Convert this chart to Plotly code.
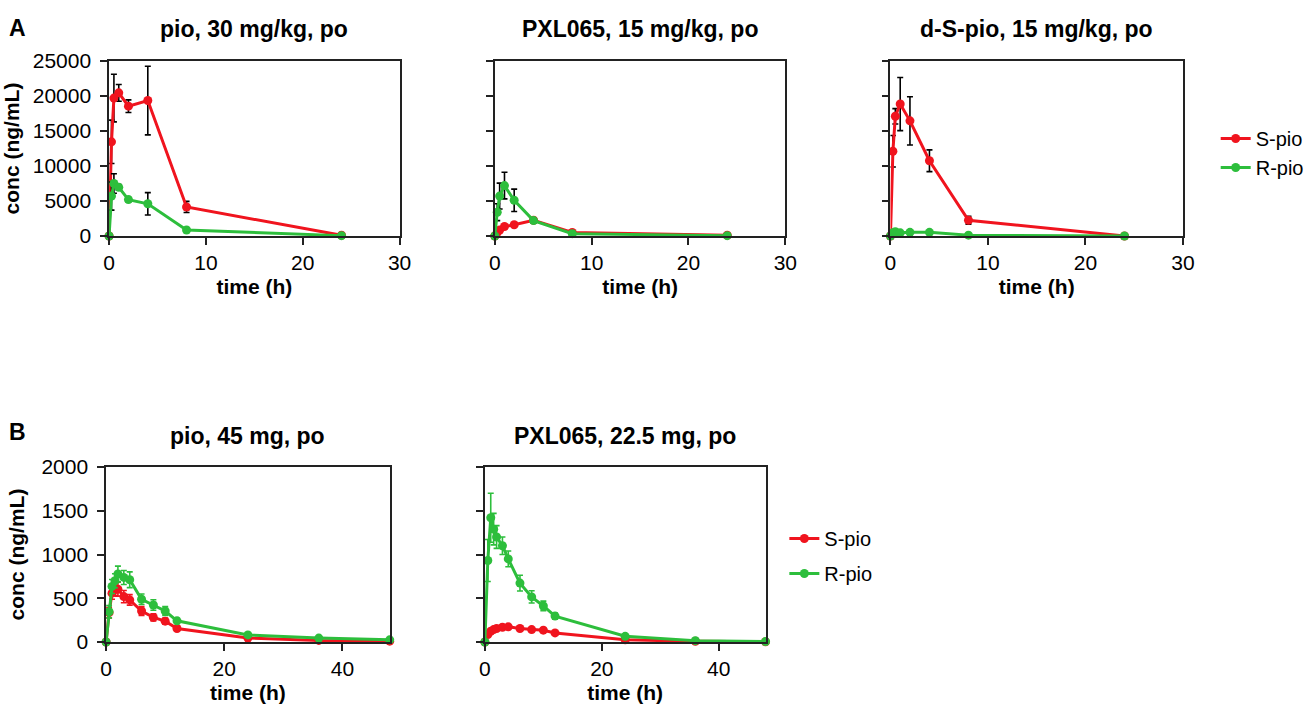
import plotly.graph_objects as go

# ---- Panel A: rat PK, 0-24 h ----
t_rat = [0, 0.25, 0.5, 1, 2, 4, 8, 24]

a1_s = [0, 13450, 19700, 20450, 18550, 19350, 4150, 100]
a1_s_err = [0, 3100, 3400, 1200, 900, 4900, 800, 0]
a1_r = [0, 5700, 7500, 6950, 5200, 4600, 850, 50]
a1_r_err = [0, 2000, 1400, 400, 300, 1600, 100, 0]

a2_s = [0, 500, 850, 1350, 1600, 2250, 500, 100]
a2_s_err = [0, 100, 200, 200, 200, 300, 100, 0]
a2_r = [0, 3400, 5700, 7200, 5100, 2200, 330, 50]
a2_r_err = [0, 1200, 1850, 1900, 1600, 300, 100, 0]

a3_s = [0, 12100, 17100, 18850, 16450, 10750, 2250, 0]
a3_s_err = [0, 2250, 1100, 3800, 3450, 1550, 550, 0]
a3_r = [0, 480, 600, 450, 520, 520, 120, 0]
a3_r_err = [0, 100, 100, 80, 80, 80, 40, 0]

# ---- Panel B: human PK, 0-48 h ----
t_hum = [0, 0.5, 1, 1.5, 2, 3, 4, 6, 8, 10, 12, 24, 36, 48]

b1_s = [0, 335, 558, 600, 604, 519, 481, 354, 281, 238, 154, 46, 18, 10]
b1_s_err = [0, 60, 70, 70, 80, 70, 60, 50, 40, 35, 25, 10, 5, 3]
b1_r = [0, 346, 635, 700, 777, 738, 711, 488, 423, 354, 242, 81, 45, 25]
b1_r_err = [0, 70, 80, 80, 90, 80, 90, 60, 60, 50, 30, 20, 15, 10]

b2_s = [0, 85, 123, 142, 154, 169, 173, 154, 142, 135, 104, 25, 8, 3]
b2_s_err = [0, 15, 15, 15, 15, 15, 15, 12, 12, 10, 10, 5, 3, 2]
b2_r = [0, 931, 1420, 1290, 1200, 1100, 950, 673, 515, 412, 296, 65, 15, 5]
b2_r_err = [0, 240, 280, 180, 130, 100, 90, 90, 70, 55, 35, 15, 5, 2]

titles = ["pio, 30 mg/kg, po", "PXL065, 15 mg/kg, po", "d-S-pio, 15 mg/kg, po",
          "pio, 45 mg, po", "PXL065, 22.5 mg, po"]
series_names = ["S-pio", "R-pio"]

RED = "#F0141E"
GREEN = "#2DBE3C"
FONT = "Liberation Sans, Arial, sans-serif"

W, H = 1309, 704


def px_x(x):
    return x / W


def px_y(y):
    return 1 - y / H


# plot-area boxes in pixels: (left, right, top, bottom)
boxes = [
    (110, 403, 61, 236),
    (499, 792, 61, 236),
    (898, 1193, 61, 236),
    (107, 393, 467, 642),
    (489, 772, 467, 642),
]

fig = go.Figure()

panels = [
    (t_rat, a1_s, a1_s_err, a1_r, a1_r_err, "black", "legend", True),
    (t_rat, a2_s, a2_s_err, a2_r, a2_r_err, "black", "legend", False),
    (t_rat, a3_s, a3_s_err, a3_r, a3_r_err, "black", "legend", False),
    (t_hum, b1_s, b1_s_err, b1_r, b1_r_err, None, "legend2", True),
    (t_hum, b2_s, b2_s_err, b2_r, b2_r_err, None, "legend2", False),
]

for i, (t, s, s_err, r, r_err, ecol, leg, _) in enumerate(panels):
    xa = "x" if i == 0 else f"x{i + 1}"
    ya = "y" if i == 0 else f"y{i + 1}"
    # legend entries come from the last panel of each row
    show = i in (2, 4)
    for name, vals, errs, col in ((series_names[0], s, s_err, RED),
                                  (series_names[1], r, r_err, GREEN)):
        fig.add_trace(go.Scatter(
            x=t, y=vals, name=name, mode="lines+markers",
            xaxis=xa, yaxis=ya, legend=leg, showlegend=show,
            legendgroup=f"{leg}-{name}",
            line=dict(color=col, width=3),
            marker=dict(color=col, size=9),
            error_y=dict(type="data", array=errs, visible=True,
                         color=ecol if ecol else col, thickness=1.6, width=3),
            cliponaxis=False,
        ))

TICK_SIZE = 21
TITLE_SIZE = 21

axis_common = dict(
    automargin=False,
    showgrid=False, zeroline=False, showline=True, linecolor="#222",
    linewidth=1.5, mirror=True, ticks="outside", ticklen=7, tickwidth=1.5,
    tickcolor="#222", tickfont=dict(family=FONT, size=TICK_SIZE, color="black"),
)

layout = dict(
    width=W, height=H, autosize=False, margin=dict(l=0, r=0, t=0, b=0, pad=0),
    paper_bgcolor="white", plot_bgcolor="white",
    font=dict(family=FONT, color="black"),
)

for i, (l, rgt, top, bot) in enumerate(boxes):
    xkey = "xaxis" if i == 0 else f"xaxis{i + 1}"
    ykey = "yaxis" if i == 0 else f"yaxis{i + 1}"
    ya = "y" if i == 0 else f"y{i + 1}"
    xa = "x" if i == 0 else f"x{i + 1}"
    is_a = i < 3
    xax = dict(axis_common)
    xax.update(domain=[px_x(l), px_x(rgt)], anchor=ya,
               range=[0, 30] if is_a else [0, 48],
               tickvals=[0, 10, 20, 30] if is_a else [0, 20, 40],
               ticklabelstandoff=0,
               title=dict(text="<b>time (h)</b>",
                          font=dict(family=FONT, size=TITLE_SIZE), standoff=6))
    yax = dict(axis_common)
    yax.update(domain=[px_y(bot), px_y(top)], anchor=xa,
               range=[0, 25000] if is_a else [0, 2000],
               tickvals=list(range(0, 25001, 5000)) if is_a else list(range(0, 2001, 500)),
               tickformat="d",
               showticklabels=panels[i][7], ticklabelstandoff=5)
    if panels[i][7]:
        yax["title"] = dict(text="<b>conc (ng/mL)</b>",
                            font=dict(family=FONT, size=TITLE_SIZE), standoff=11)
    layout[xkey] = xax
    layout[ykey] = yax

fig.update_layout(**layout)

fig.update_layout(
    legend=dict(x=px_x(1226), y=px_y(119), xanchor="left", yanchor="top",
                font=dict(family=FONT, size=20), bgcolor="rgba(0,0,0,0)",
                traceorder="grouped", tracegroupgap=0, itemwidth=30),
    legend2=dict(x=px_x(791), y=px_y(519), xanchor="left", yanchor="top",
                 font=dict(family=FONT, size=20), bgcolor="rgba(0,0,0,0)",
                 traceorder="grouped", tracegroupgap=6, itemwidth=30),
)

# panel titles centred above each box
for (l, rgt, top, bot), txt, yy in zip(boxes, titles, [29, 29, 29, 436, 436]):
    fig.add_annotation(x=px_x((l + rgt) / 2), y=px_y(yy), xref="paper", yref="paper",
                       text=f"<b>{txt}</b>", showarrow=False,
                       font=dict(family=FONT, size=23, color="black"),
                       xanchor="center", yanchor="middle")

# panel letters
for letter, yy in (("A", 28), ("B", 432)):
    fig.add_annotation(x=px_x(7), y=px_y(yy), xref="paper", yref="paper",
                       text=f"<b>{letter}</b>", showarrow=False,
                       font=dict(family=FONT, size=23, color="black"),
                       xanchor="left", yanchor="middle")

fig.write_html(
    "out.html",
    config={"responsive": False},
    post_script=(
        "document.documentElement.style.overflow='hidden';"
        "document.body.style.overflow='hidden';"
        "document.body.style.margin='0';document.body.style.padding='0';"
    ),
)
